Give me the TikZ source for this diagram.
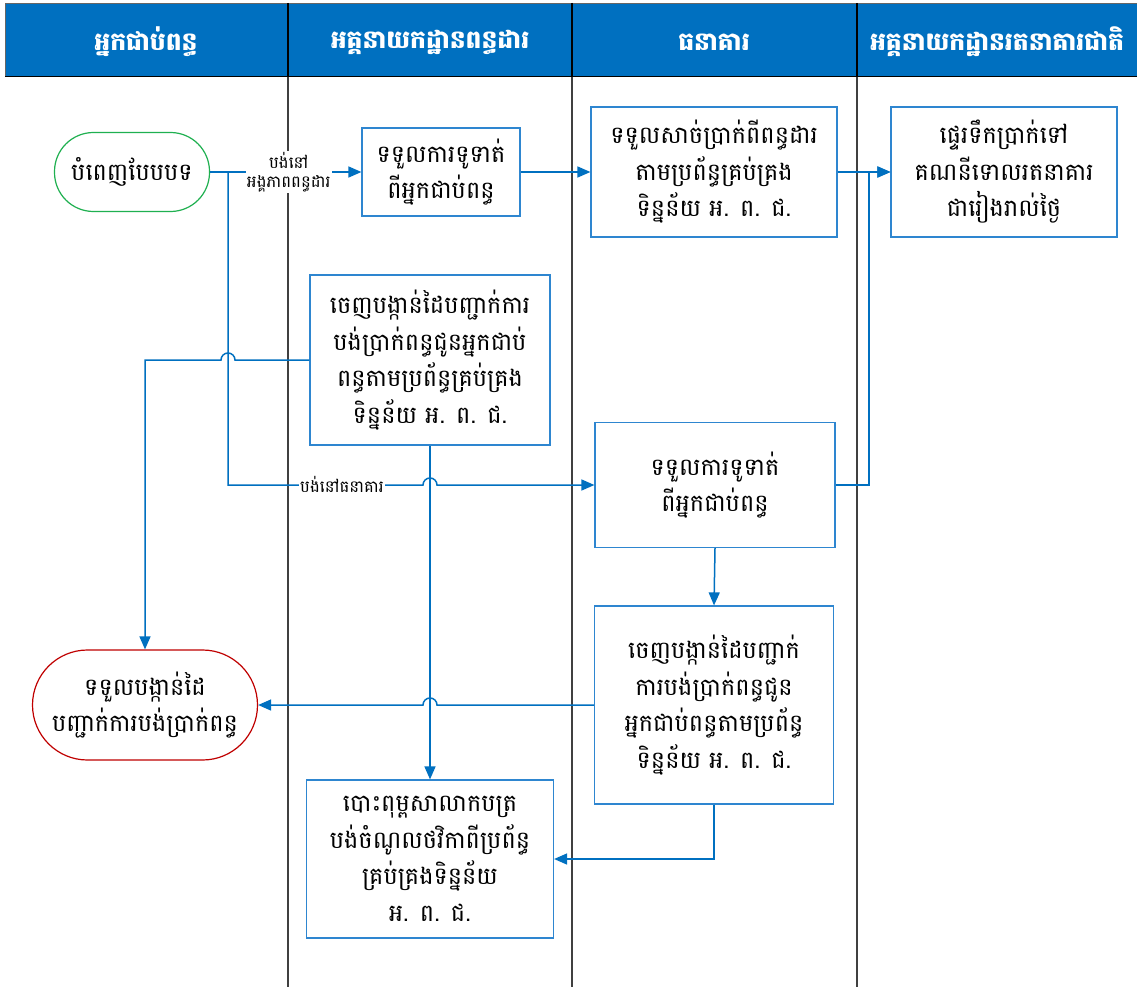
\documentclass[tikz,border=0pt]{standalone}
\usepackage{fontspec}
\usetikzlibrary{arrows.meta}
\newfontfamily\kh[Script=Khmer]{Battambang}
\definecolor{hdrblue}{HTML}{0070C0}
\definecolor{flowblue}{HTML}{0070C0}
\definecolor{boxblue}{HTML}{2E86D0}
\definecolor{startgreen}{HTML}{1FB050}
\definecolor{endred}{HTML}{C00000}
\tikzset{
  lane/.style={draw=black!75, line width=1.2pt},
  hdrtext/.style={text=white, font=\kh\bfseries\fontsize{25}{28}\selectfont},
  stepbox/.style={draw=boxblue, line width=1.2pt, fill=white, align=center,
    inner sep=0pt, font=\kh\fontsize{24}{36.5}\selectfont},
  terminal/.style={stepbox, rounded corners=39pt},
  flow/.style={draw=flowblue, line width=1.5pt, -{Triangle[length=13pt,width=11pt]}},
  flowlabel/.style={fill=white, inner sep=1pt, align=center,
    font=\kh\fontsize{16.5}{19.5}\selectfont}
}
\begin{document}
\begin{tikzpicture}[x=1pt,y=-1pt]
\useasboundingbox (0,0) rectangle (1139,987);
\fill[white] (0,0) rectangle (1139,987);

% swimlane header
\fill[hdrblue] (5,3) rectangle (1137,77);
\draw[black!60, line width=0.8pt] (5,77) -- (5,3) -- (1137,3);
\draw[black, line width=1pt] (5,77) -- (1137,77);
\foreach \x in {288,572,857} \draw[black, line width=1.2pt] (\x,3) -- (\x,77);
\node[hdrtext] (h1) at (146,42) {អ្នកជាប់ពន្ធ};
\node[hdrtext] (h2) at (430,42) {អគ្គនាយកដ្ឋានពន្ធដារ};
\node[hdrtext] (h3) at (714,42) {ធនាគារ};
\node[hdrtext] (h4) at (997,42) {អគ្គនាយកដ្ឋានរតនាគារជាតិ};

% lane separators
\foreach \x in {288,572,857} \draw[lane] (\x,77) -- (\x,987);

% steps
\node[terminal, draw=startgreen, minimum width=155pt, minimum height=79pt] (start) at (132,172) {បំពេញបែបបទ};
\node[stepbox, minimum width=158pt, minimum height=88pt] (recvA) at (441,172) {ទទួលការទូទាត់\\ពីអ្នកជាប់ពន្ធ};
\node[stepbox, minimum width=246pt, minimum height=130pt] (cash) at (714,172) {ទទួលសាច់ប្រាក់ពីពន្ធដារ\\តាមប្រព័ន្ធគ្រប់គ្រង\\ទិន្នន័យ អ. ព. ជ.};
\node[stepbox, minimum width=226pt, minimum height=130pt] (xfer) at (1004,172) {ផ្ទេរទឹកប្រាក់ទៅ\\គណនីទោលរតនាគារ\\ជារៀងរាល់ថ្ងៃ};
\node[stepbox, minimum width=240pt, minimum height=170pt] (rcptD) at (430,360) {ចេញបង្កាន់ដៃបញ្ជាក់ការ\\បង់ប្រាក់ពន្ធជូនអ្នកជាប់\\ពន្ធតាមប្រព័ន្ធគ្រប់គ្រង\\ទិន្នន័យ អ. ព. ជ.};
\node[stepbox, minimum width=240pt, minimum height=125pt] (recvB) at (715,485) {ទទួលការទូទាត់\\ពីអ្នកជាប់ពន្ធ};
\node[stepbox, minimum width=239pt, minimum height=198pt] (rcptB) at (714,705) {ចេញបង្កាន់ដៃបញ្ជាក់\\ការបង់ប្រាក់ពន្ធជូន\\អ្នកជាប់ពន្ធតាមប្រព័ន្ធ\\ទិន្នន័យ អ. ព. ជ.};
\node[terminal, draw=endred, rounded corners=55pt, minimum width=225pt, minimum height=110pt] (done) at (145,705) {ទទួលបង្កាន់ដៃ\\បញ្ជាក់ការបង់ប្រាក់ពន្ធ};
\node[stepbox, minimum width=247pt, minimum height=158pt] (print) at (430,859) {បោះពុម្ពសាលាកបត្រ\\បង់ចំណូលថវិកាពីប្រព័ន្ធ\\គ្រប់គ្រងទិន្នន័យ\\អ. ព. ជ.};

% branch point on the first connector
\coordinate (split) at (228,172);

% connectors
\draw[flow] (start.east) -- node[flowlabel, pos=0.52] (lblTax) {បង់នៅ\\អង្គភាពពន្ធដារ} (recvA.west);
\draw[flow] (split) -- (split |- recvB.west) -- (423,485) arc[start angle=180, end angle=0, radius=7pt] -- (recvB.west);
\node[flowlabel] (lblBank) at (342,484) {បង់នៅធនាគារ};
\draw[flow] (recvA.east) -- (cash.west);
\draw[flow] (cash.east) -- (xfer.west);
\draw[flow] (recvB.east) -- (869,485) -- (869,172) -- (xfer.west);
\draw[flow] (rcptD.west) -- (235,360) arc[start angle=0, end angle=180, radius=7pt] -- (done.north |- rcptD.west) -- (done.north);
\draw[flow] (rcptD.south) -- (print.north);
\draw[flow] (recvB.south) -- (rcptB.north);
\draw[flow] (rcptB.west) -- (437,705) arc[start angle=0, end angle=180, radius=7pt] -- (done.east);
\draw[flow] (rcptB.south) -- (rcptB.south |- print.east) -- (print.east);
\end{tikzpicture}
\end{document}
